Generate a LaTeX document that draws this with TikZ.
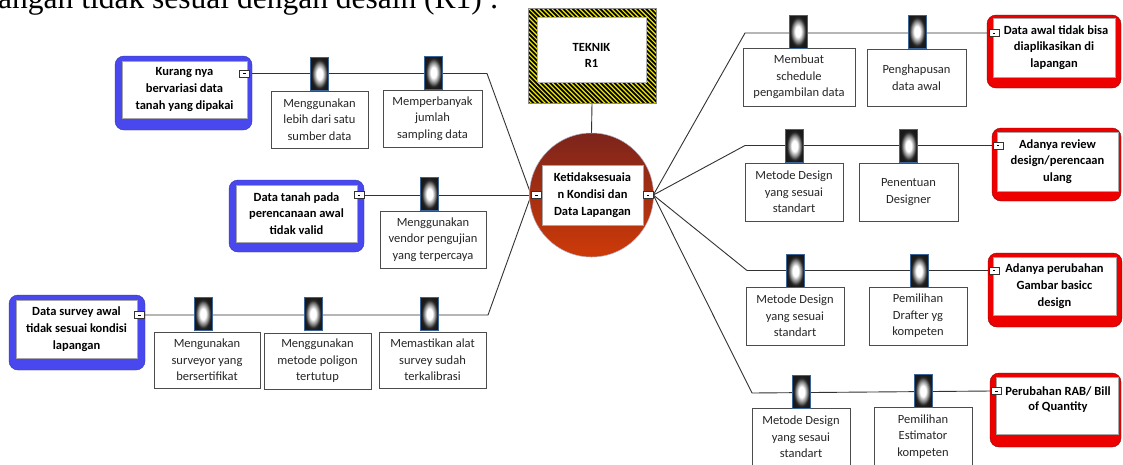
\documentclass[tikz,border=0pt]{standalone}
\usepackage{fontspec}
\setmainfont{Carlito}
\newfontfamily\tnr{Liberation Serif}
\definecolor{bluebox}{RGB}{72,72,238}
\definecolor{redbox}{RGB}{236,0,0}
\definecolor{circtop}{RGB}{124,36,28}
\definecolor{circbot}{RGB}{206,58,8}
\definecolor{hatchy}{RGB}{236,228,0}
\definecolor{clipedge}{RGB}{60,100,150}
\definecolor{conncol}{RGB}{50,50,50}
\pgfdeclareradialshading{clipshade}{\pgfpoint{0bp}{0bp}}{color(0bp)=(white); color(8bp)=(white); color(16bp)=(black!50); color(21bp)=(black!85); color(25bp)=(black!90); color(50bp)=(black!90)}
\pgfdeclarelayer{bg}
\pgfsetlayers{bg,main}
\newcommand\bx[7]{\node[#1, minimum width={#5-#3}, minimum height={#6-#4}] (#2) at ({(#3+#5)/2},{(#4+#6)/2}) {#7};}
\tikzset{
  sub/.style={rectangle, draw=black!70, line width=0.9pt, fill=white, align=center, inner sep=0,
    font=\fontsize{12.5}{16.5}\selectfont, text=black!85},
  inbox/.style={rectangle, draw=black!35, line width=0.5pt, fill=white, align=center, inner sep=0,
    font=\bfseries\fontsize{12.5}{16.8}\selectfont},
  blueout/.style={rectangle, rounded corners=9, fill=bluebox, draw=bluebox!70!black, line width=0.4pt},
  redout/.style={rectangle, rounded corners=9, fill=redbox, draw=redbox!60!black, line width=0.4pt},
  mk/.style={rectangle, draw=black!80, fill=white, line width=0.6pt, minimum width=10, minimum height=7, inner sep=0},
  clipicon/.style={rectangle, draw=clipedge, line width=0.8pt, shade, shading=clipshade, minimum width=18, minimum height=33, inner sep=0},
  conn/.style={draw=conncol, line width=0.9pt},
}
\begin{document}
\begin{tikzpicture}[x=1pt,y=-1pt]
\useasboundingbox (0,0) rectangle (1123,464);
\begin{pgfonlayer}{bg}
\fill[white] (0,0) rectangle (1123,464);
\end{pgfonlayer}
% cut-off heading line
\node[anchor=base west, inner sep=0, font=\tnr\fontsize{31.5}{36}\selectfont] (title) at (-2,8) {angan tidak sesuai dengan desain (R1) :};

% TEKNIK box
\node[minimum width=128, minimum height=95, inner sep=0] (teknik) at (592,55.5) {};
\begin{scope}
\clip (528,8) rectangle (656,103);
\fill[hatchy] (528,8) rectangle (656,103);
\foreach \xx in {420,424.6,...,662} \draw[line width=1.7pt] (\xx,8) -- ++(100,100);
\end{scope}
\draw[black!45, line width=0.5pt] (528,8) rectangle (656,103);
\fill[white] (537,17) rectangle (646,82);
\draw[black!30, line width=0.4pt] (537,17) rectangle (646,82);
\node[font=\bfseries\fontsize{12.5}{16}\selectfont, align=center] (tektext) at (591.5,55) {TEKNIK\\R1};

% center
\node[circle, minimum size=124, inner sep=0, top color=circtop, bottom color=circbot, draw=blue!25!black!30, line width=0.5pt] (circ) at (591.5,195) {};
\bx{inbox}{ctext}{542}{165}{643}{225}{Ketidaksesuaia\\n Kondisi dan\\Data Lapangan}
\node[mk] (lm) at (536.5,195) {\rule{2.5pt}{0.6pt}};
\node[mk] (rm) at (648,195) {\rule{2.5pt}{0.6pt}};

% left problem boxes
\bx{blueout}{b1}{115}{56}{252}{130}{}
\bx{inbox}{b1in}{122}{61}{247}{118}{Kurang nya\\bervariasi data\\tanah yang dipakai}
\bx{blueout}{b2}{229}{180}{364}{252}{}
\bx{inbox}{b2in}{236}{185}{357}{242}{Data tanah pada\\perencanaan awal\\tidak valid}
\bx{blueout}{b3}{9}{295}{145}{370}{}
\bx{inbox}{b3in}{16}{300}{137}{358}{Data survey awal\\tidak sesuai kondisi\\lapangan}
\node[mk] (m1) at (244.5,73.5) {\rule{2.5pt}{0.6pt}};
\node[mk] (m2) at (359,195) {\rule{2.5pt}{0.6pt}};
\node[mk] (m3) at (139.5,315) {\rule{2.5pt}{0.6pt}};

% right problem boxes
\bx{redout}{r1}{987}{15}{1121}{88}{}
\bx{inbox}{r1in}{993}{18}{1115}{77}{\hspace*{4pt}Data awal tidak bisa\\diaplikasikan di\\lapangan}
\bx{redout}{r2}{992}{128}{1121}{201}{}
\bx{inbox}{r2in}{997}{132}{1118}{191}{Adanya review\\design/perencaan\\ulang}
\bx{redout}{r3}{988}{253}{1122}{327}{}
\bx{inbox}{r3in}{993}{257}{1116}{315}{Adanya perubahan\\Gambar basicc\\design}
\bx{redout}{r4}{990}{373}{1121}{447}{}
\bx{inbox}{r4in}{996}{377}{1118}{434}{}
\node[font=\bfseries\fontsize{12.5}{15.5}\selectfont, align=center, inner sep=0] (r4t) at (1058,399.5) {Perubahan RAB/ Bill\\of Quantity};
\node[mk] (rm1) at (994,33) {\rule{2.5pt}{0.6pt}};
\node[mk] (rm2) at (998,145.5) {\rule{2.5pt}{0.6pt}};
\node[mk] (rm3) at (994,270.5) {\rule{2.5pt}{0.6pt}};
\node[mk] (rm4) at (996.5,391) {\rule{2.5pt}{0.6pt}};

% solution boxes (left)
\bx{sub}{s1a}{271}{91}{368}{148}{Menggunakan\\lebih dari satu\\sumber data}
\bx{sub}{s1b}{383}{90}{482}{147}{Memperbanyak\\jumlah\\sampling data}
\bx{sub}{s2}{380}{211}{486}{268}{Menggunakan\\vendor pengujian\\yang terpercaya}
\bx{sub}{s3a}{154}{332}{260}{388}{Mengunakan\\surveyor yang\\bersertifikat}
\bx{sub}{s3b}{264}{333}{371}{389}{Menggunakan\\metode poligon\\tertutup}
\bx{sub}{s3c}{379}{332}{486}{388}{Memastikan alat\\survey sudah\\terkalibrasi}
% solution boxes (right)
\bx{sub}{t1a}{743}{48}{855}{106}{Membuat\\schedule\\pengambilan data}
\bx{sub}{t1b}{867}{49}{966}{106}{Penghapusan\\data awal}
\bx{sub}{t2a}{745}{163}{843}{221}{Metode Design\\yang sesuai\\standart}
\bx{sub}{t2b}{859}{163}{958}{221}{Penentuan\\Designer}
\bx{sub}{t3a}{746}{287}{844}{345}{Metode Design\\yang sesuai\\standart}
\bx{sub}{t3b}{869}{287}{967}{345}{Pemilihan\\Drafter yg\\kompeten}
\bx{sub}{t4a}{752}{408}{850}{466}{Metode Design\\yang sesaui\\standart}
\bx{sub}{t4b}{874}{407}{972}{466}{Pemilihan\\Estimator\\kompeten}

% bend points
\coordinate (k1) at (487,73.5);
\coordinate (k3) at (488,315);
\coordinate (q1) at (745,33);
\coordinate (q2) at (745,145.5);
\coordinate (q3) at (747,270.5);
\coordinate (q4) at (752,393);

\begin{pgfonlayer}{bg}
\draw[conn] (m1.east) -- (k1) -- (lm.west);
\draw[conn] (m2.east) -- (lm.west);
\draw[conn] (m3.east) -- (k3) -- (lm.west);
\draw[conn] (rm.east) -- (q1) -- (rm1.west);
\draw[conn] (rm.east) -- (q2) -- (rm2.west);
\draw[conn] (rm.east) -- (q3) -- (rm3.west);
\draw[conn] (rm.east) -- (q4) -- (rm4.west);
\draw[conn] (teknik.south) -- (circ.north);
\end{pgfonlayer}

% clip icons on connectors
\node[clipicon] (c1a) at (319.5,74) {};
\node[clipicon] (c1b) at (433.5,72.5) {};
\node[clipicon] (c2) at (429.5,194) {};
\node[clipicon] (c3a) at (203,314) {};
\node[clipicon] (c3b) at (313,314) {};
\node[clipicon] (c3c) at (429.5,314) {};
\node[clipicon] (d1a) at (798,31.5) {};
\node[clipicon] (d1b) at (917,31.5) {};
\node[clipicon] (d2a) at (794.5,146) {};
\node[clipicon] (d2b) at (908.5,146) {};
\node[clipicon] (d3a) at (795.5,271) {};
\node[clipicon] (d3b) at (919,271) {};
\node[clipicon] (d4a) at (801.5,392) {};
\node[clipicon] (d4b) at (923,391) {};
\end{tikzpicture}
\end{document}
